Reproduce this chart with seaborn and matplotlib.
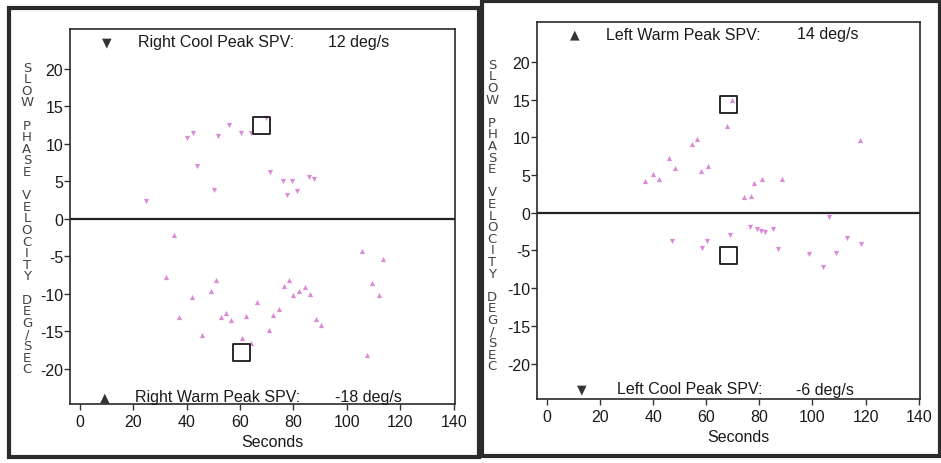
import numpy as np
import pandas as pd
import matplotlib
matplotlib.use("Agg")
import matplotlib.pyplot as plt
from matplotlib.patches import Rectangle
import seaborn as sns

# ---------------- data ----------------
# Right ear (left panel)
right_cool_x = [24.6, 40.3, 42.4, 43.7, 50.3, 51.8, 55.7, 60.2, 64.0, 69.6, 71.2, 76.2, 77.7, 79.4, 81.2, 85.9, 87.6]
right_cool_y = [2.4, 10.8, 11.4, 7.0, 3.9, 11.0, 12.5, 11.4, 11.5, 13.5, 6.3, 5.1, 3.2, 5.0, 3.7, 5.6, 5.3]
right_warm_x = [35.2, 32.2, 37.3, 42.1, 45.6, 49.1, 51.1, 52.7, 54.8, 56.7, 60.7, 62.4, 64.0, 66.4, 71.0,
                72.5, 74.4, 76.5, 78.2, 79.8, 82.0, 84.2, 86.3, 88.4, 90.4, 105.6, 113.4, 109.4, 112.0, 107.7]
right_warm_y = [-2.2, -7.7, -13.1, -10.4, -15.5, -9.6, -8.1, -13.1, -12.5, -13.5, -15.9, -13.0, -16.5, -11.1, -14.8,
                -12.8, -12.0, -9.0, -8.1, -10.1, -9.6, -9.1, -10.0, -13.3, -14.2, -4.3, -5.3, -8.5, -10.1, -18.2]
right_peak_x = [68.2, 60.4]
right_peak_y = [12.4, -17.8]
right_cool_peak = 12
right_warm_peak = -18

# Left ear (right panel)
left_warm_x = [36.9, 39.9, 42.2, 46.1, 48.1, 54.7, 56.4, 58.1, 60.8, 68.0, 69.8, 74.1, 76.9, 77.9, 81.1, 88.5, 117.9]
left_warm_y = [4.2, 5.2, 4.5, 7.2, 6.0, 9.1, 9.8, 5.6, 6.2, 11.5, 15.0, 2.1, 2.2, 3.9, 4.5, 4.5, 9.6]
left_cool_x = [106.4, 76.6, 79.1, 80.6, 82.3, 85.2, 69.1, 47.3, 60.3, 58.6, 87.0, 98.8, 104.0, 109.0, 112.9, 118.4]
left_cool_y = [-0.6, -1.9, -2.2, -2.4, -2.5, -2.1, -3.0, -3.8, -3.8, -4.7, -4.8, -5.5, -7.2, -5.3, -3.3, -4.2]
left_peak_x = [68.4, 68.3]
left_peak_y = [14.3, -5.7]
left_warm_peak = 14
left_cool_peak = -6

x_ticks = [0, 20, 40, 60, 80, 100, 120, 140]
y_ticks = [-20, -15, -10, -5, 0, 5, 10, 15, 20]
y_label = "SLOW PHASE VELOCITY DEG/SEC"
x_label = "Seconds"

# ---------------- style ----------------
sns.set_style("ticks")
plt.rcParams['font.family'] = ['Liberation Sans', 'DejaVu Sans']
plt.rcParams['axes.unicode_minus'] = False

W, H = 941, 464
fig = plt.figure(figsize=(W / 100, H / 100), dpi=100)
fig.patch.set_facecolor("white")

def px_axes(l, t, r, b):
    return fig.add_axes([l / W, 1 - b / H, (r - l) / W, (b - t) / H])

def fx(x):
    return x / W

def fy(y):
    return 1 - y / H

PT_COLOR = "#dc8ad8"
TXT = "#1a1a1a"
FS = 11.5

def setup(ax, lab_x, lab_y, xl_x, xl_y):
    ax.set_xlim(-3.7, 140.5)
    ax.set_ylim(-24.7, 25.3)
    ax.set_xticks(x_ticks)
    ax.set_yticks(y_ticks)
    ax.tick_params(axis="both", direction="out", length=4, width=1, color="#333333",
                   labelsize=FS, labelcolor=TXT, pad=1, bottom=True, left=True)
    ax.tick_params(axis="x", pad=3)
    for s in ax.spines.values():
        s.set_visible(True)
        s.set_color("#2a2a2a")
        s.set_linewidth(1.2)
    ax.axhline(0, color="#222222", lw=1.6, zorder=1)
    ax.set_ylabel("\n".join(list(y_label)), rotation=0, ha="center", va="center",
                  fontsize=9.5, linespacing=0.86, color="#444444",
                  family=["DejaVu Sans"])
    ax.yaxis.set_label_coords(lab_x, lab_y)
    ax.set_xlabel(x_label, fontsize=FS, color=TXT)
    ax.xaxis.set_label_coords(xl_x, xl_y)
    ax.grid(False)

def pts(ax, xs, ys, marker):
    sns.scatterplot(x=xs, y=ys, ax=ax, marker=marker, s=14, color=PT_COLOR,
                    linewidth=0, legend=False, zorder=3)

def peaks(ax, xs, ys):
    sns.scatterplot(x=xs, y=ys, ax=ax, marker="s", s=150, facecolors="none",
                    edgecolors="#1a1a1a", linewidth=1.3, legend=False, zorder=4)

# ---------------- left panel ----------------
ax1 = px_axes(70, 30, 455, 405)
setup(ax1, -0.112, 0.496, 0.525, -0.08)
pts(ax1, right_cool_x, right_cool_y, "v")
pts(ax1, right_warm_x, right_warm_y, "^")
peaks(ax1, right_peak_x, right_peak_y)

# ---------------- right panel ----------------
ax2 = px_axes(537, 23, 920, 400)
setup(ax2, -0.117, 0.488, 0.525, -0.08)
pts(ax2, left_warm_x, left_warm_y, "^")
pts(ax2, left_cool_x, left_cool_y, "v")
peaks(ax2, left_peak_x, left_peak_y)

# ---------------- in-plot legend texts ----------------
def note(tri, tx, ty, label, lx, value, vx):
    fig.text(fx(tx), fy(ty), tri, ha="center", va="center", fontsize=9,
             color="#333333", family=["DejaVu Sans"])
    fig.text(fx(lx), fy(ty), label, ha="left", va="center", fontsize=FS, color=TXT)
    fig.text(fx(vx), fy(ty), value, ha="left", va="center", fontsize=FS, color=TXT)

note("\u25BC", 107, 43, "Right Cool Peak SPV:", 138, f"{right_cool_peak} deg/s", 328)
note("\u25B2", 105, 398, "Right Warm Peak SPV:", 135, f"{right_warm_peak} deg/s", 335)
note("\u25B2", 575, 35, "Left Warm Peak SPV:", 606, f"{left_warm_peak} deg/s", 797)
note("\u25BC", 582, 390, "Left Cool Peak SPV:", 617, f"{left_cool_peak} deg/s", 796)

# ---------------- outer frames ----------------
def frame(l, t, r, b, lw=3):
    fig.add_artist(Rectangle((fx(l), fy(b)), fx(r - l), (b - t) / H, transform=fig.transFigure,
                             fill=False, edgecolor="#2b2b2b", linewidth=lw))

frame(9, 9, 479, 458)
frame(482, 2, 940, 457)

fig.savefig("out.png", dpi=100, facecolor="white")
